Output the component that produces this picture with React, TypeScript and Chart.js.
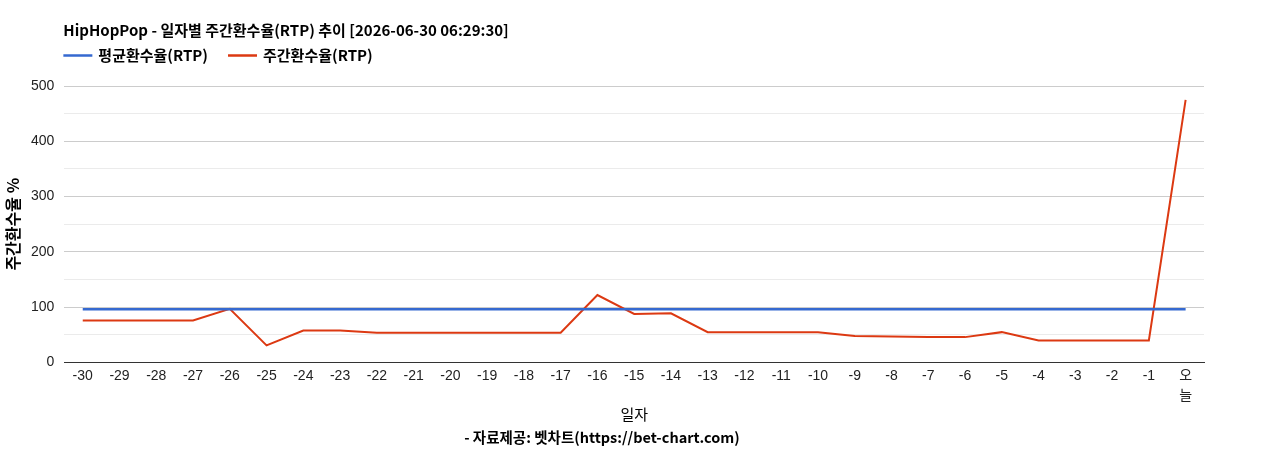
import React, { useEffect, useRef } from "react";
import { Chart, registerables } from "chart.js";

Chart.register(...registerables);

const TITLE = "HipHopPop - 일자별 주간환수율(RTP) 추이 [2026-06-30 06:29:30]";
const CREDIT = "- 자료제공: 벳차트(https://bet-chart.com)";
const X_TITLE = "일자";
const Y_TITLE = "주간환수율 %";

const dayLabels: (string | string[])[] = [
  "-30", "-29", "-28", "-27", "-26", "-25", "-24", "-23", "-22", "-21",
  "-20", "-19", "-18", "-17", "-16", "-15", "-14", "-13", "-12", "-11",
  "-10", "-9", "-8", "-7", "-6", "-5", "-4", "-3", "-2", "-1", ["오", "늘"],
];

const avgLabel = "평균환수율(RTP)";
const weeklyLabel = "주간환수율(RTP)";

const avgRtp = [
  96.5, 96.5, 96.5, 96.5, 96.5, 96.5, 96.5, 96.5, 96.5, 96.5,
  96.5, 96.5, 96.5, 96.5, 96.5, 96.5, 96.5, 96.5, 96.5, 96.5,
  96.5, 96.5, 96.5, 96.5, 96.5, 96.5, 96.5, 96.5, 96.5, 96.5, 96.5,
];

const weeklyRtp = [
  76, 76, 76, 76, 97, 31, 58, 58, 54, 54,
  54, 54, 54, 54, 122, 88, 89, 55, 55, 55,
  55, 48, 47, 46, 46, 55, 40, 40, 40, 40, 475,
];

const KFONT = "'Noto Sans CJK KR', 'Noto Sans', sans-serif";
const TFONT = "'Liberation Sans', Arial, 'Noto Sans CJK KR', sans-serif";

const headerPlugin = {
  id: "header",
  afterDraw(chart: any) {
    const ctx = chart.ctx;
    const left = chart.chartArea.left - 1;
    ctx.save();
    ctx.textAlign = "left";
    ctx.textBaseline = "middle";
    ctx.fillStyle = "#000";
    ctx.font = `bold 15px ${KFONT}`;
    ctx.fillText(TITLE, left, 30);
    let x = left;
    chart.data.datasets.forEach((ds: any) => {
      ctx.strokeStyle = ds.borderColor;
      ctx.lineWidth = 2.5;
      ctx.beginPath();
      ctx.moveTo(x, 55.5);
      ctx.lineTo(x + 29, 55.5);
      ctx.stroke();
      x += 35;
      ctx.fillStyle = "#000";
      ctx.fillText(ds.label, x, 55);
      x += ctx.measureText(ds.label).width + 20;
    });
    ctx.restore();
  },
};

export default function App() {
  const ref = useRef<HTMLCanvasElement>(null);
  useEffect(() => {
    document.body.style.margin = "0";
    const canvas = ref.current!;
    const chart = new Chart(canvas, {
      type: "line",
      data: {
        labels: dayLabels,
        datasets: [
          {
            label: avgLabel,
            data: avgRtp,
            borderColor: "#3569d0",
            backgroundColor: "#3569d0",
            borderWidth: 2.5,
            pointRadius: 0,
            tension: 0,
          },
          {
            label: weeklyLabel,
            data: weeklyRtp,
            borderColor: "#dc3912",
            backgroundColor: "#dc3912",
            borderWidth: 2,
            pointRadius: 0,
            tension: 0,
          },
        ],
      },
      options: {
        animation: false,
        responsive: false,
        maintainAspectRatio: false,
        layout: { padding: { top: 86, left: 0, right: 64, bottom: 4 } },
        plugins: {
          legend: { display: false },
          title: { display: false },
          tooltip: { enabled: false },
          subtitle: {
            display: true,
            position: "bottom",
            text: CREDIT,
            color: "#000",
            font: { family: KFONT, size: 14.5, weight: "bold" },
            padding: { top: 0, bottom: 0 },
          },
        },
        scales: {
          x: {
            offset: true,
            grid: { display: false, drawTicks: false },
            border: { display: true, color: "#333", width: 1 },
            ticks: {
              autoSkip: false,
              maxRotation: 0,
              minRotation: 0,
              padding: 4,
              color: "#222",
              font: { family: TFONT, size: 14, lineHeight: 1.43 },
            },
            title: {
              display: true,
              text: X_TITLE,
              color: "#000",
              font: { family: KFONT, size: 15 },
              padding: { top: -5, bottom: 5 },
            },
          },
          y: {
            min: 0,
            max: 500,
            border: { display: false },
            grid: {
              drawTicks: false,
              color: (c: any) =>
                c.tick.value === 0 ? "#333" : c.tick.value % 100 === 0 ? "#cccccc" : "#ebebeb",
            },
            ticks: {
              stepSize: 50,
              padding: 10,
              color: "#222",
              font: { family: TFONT, size: 14 },
              callback: (v: any) => (Number(v) % 100 === 0 ? String(v) : ""),
            },
            title: {
              display: true,
              text: Y_TITLE,
              color: "#000",
              font: { family: KFONT, size: 16, weight: "bold", lineHeight: 1 },
              padding: { top: 5, bottom: 0 },
            },
          },
        },
      },
      plugins: [headerPlugin],
    });
    return () => chart.destroy();
  }, []);
  return <canvas ref={ref} width={1268} height={450} style={{ display: "block" }} />;
}
